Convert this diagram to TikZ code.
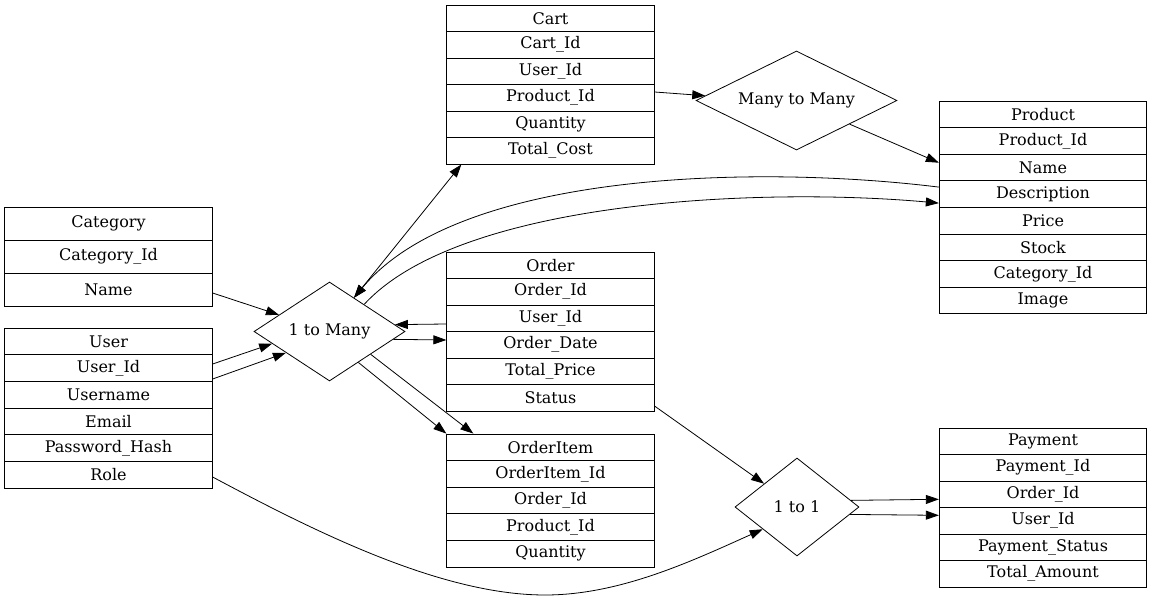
\documentclass[tikz,border=0pt]{standalone}
\usepackage{fontspec}
\setmainfont{DejaVu Serif}
\usepackage{tikz}
\usetikzlibrary{arrows.meta}
\usetikzlibrary{shapes.geometric}

\begin{document}
\begin{tikzpicture}[x=1pt,y=-1pt,line width=0.8pt]
\tikzset{>={Triangle[width=9pt,length=13pt]}}
\tikzstyle{field} =[rectangle, draw, inner sep=0pt, minimum width=207.5pt, minimum height=26.6pt, font=\fontsize{16}{19}\selectfont]
\tikzstyle{relation} =[diamond, draw, aspect=2, inner sep=0pt, font=\fontsize{16}{19}\selectfont]
\useasboundingbox (0,0) rectangle (1152,599);

% Category
\node[field,minimum height=33pt](cat0) at (108.5,223.5){Category};
\node[field,minimum height=33pt](cat1) at (108.5,256.5){Category\_Id};
\node[field,minimum height=33pt](cat2) at (108.5,289.5){Name};

% User
\node[field](user0) at (108.5,341.3){User};
\node[field](user1) at (108.5,368){User\_Id};
\node[field](user2) at (108.5,394.6){Username};
\node[field](user3) at (108.5,421.3){Email};
\node[field](user4) at (108.5,448){Password\_Hash};
\node[field](user5) at (108.5,474.6){Role};

% Cart
\node[field](cart0) at (550.5,18.3){Cart};
\node[field](cart1) at (550.5,44.8){Cart\_Id};
\node[field](cart2) at (550.5,71.3){User\_Id};
\node[field](cart3) at (550.5,97.8){Product\_Id};
\node[field](cart4) at (550.5,124.3){Quantity};
\node[field](cart5) at (550.5,150.8){Total\_Cost};

% Order
\node[field](order0) at (550.5,265.3){Order};
\node[field](order1) at (550.5,291.8){Order\_Id};
\node[field](order2) at (550.5,318.3){User\_Id};
\node[field](order3) at (550.5,344.8){Order\_Date};
\node[field](order4) at (550.5,371.3){Total\_Price};
\node[field](order5) at (550.5,397.8){Status};

% OrderItem
\node[field](oitem0) at (550.5,447.3){OrderItem};
\node[field](oitem1) at (550.5,473.9){OrderItem\_Id};
\node[field](oitem2) at (550.5,500.5){Order\_Id};
\node[field](oitem3) at (550.5,527.1){Product\_Id};
\node[field](oitem4) at (550.5,553.7){Quantity};

% Product
\node[field](prod0) at (1043,114.3){Product};
\node[field](prod1) at (1043,140.9){Product\_Id};
\node[field](prod2) at (1043,167.5){Name};
\node[field](prod3) at (1043,194.1){Description};
\node[field](prod4) at (1043,220.7){Price};
\node[field](prod5) at (1043,247.3){Stock};
\node[field](prod6) at (1043,273.9){Category\_Id};
\node[field](prod7) at (1043,300.5){Image};

% Payment
\node[field](pay0) at (1043,441.3){Payment};
\node[field](pay1) at (1043,467.8){Payment\_Id};
\node[field](pay2) at (1043,494.3){Order\_Id};
\node[field](pay3) at (1043,520.8){User\_Id};
\node[field](pay4) at (1043,547.3){Payment\_Status};
\node[field](pay5) at (1043,573.8){Total\_Amount};

% relations
\node[relation,minimum width=151pt,minimum height=99pt](onemany) at (329.5,331.5){1 to Many};
\node[relation,minimum width=201pt,minimum height=99pt](manymany) at (796.5,100.5){Many to Many};
\node[relation,minimum width=124pt,minimum height=98pt](onetoone) at (797,507){1 to 1};
\coordinate (rolebend) at (545,595);

\draw [->] ([yshift=-3.5pt]cat2.east) -- (onemany);
\draw [->] ([yshift=4pt]user1.east) -- (onemany.192);
\draw [->] ([yshift=-11pt]user1.east) -- (onemany.206);
\draw [<->] ([xshift=15pt]cart5.south west) -- (onemany.54);
\draw [->] ([yshift=7pt]prod3.west) .. controls (760,165) and (460,170) .. (onemany.54);
\draw [->] (onemany.38) .. controls (460,200) and (760,187) .. ([yshift=-9pt]prod3.west);
\draw [->] ([yshift=-5.7pt]order2.west) -- (onemany.6);
\draw [->] (onemany.-7) -- ([yshift=4.8pt]order3.west);
\draw [->] (onemany.-47) -- (oitem0.north west);
\draw [->] (onemany.-29) -- ([xshift=27pt]oitem0.north west);
\draw [->] ([yshift=5.8pt]cart3.east) -- (manymany.177);
\draw [->] (manymany.-24) -- ([yshift=4.8pt]prod2.west);
\draw [->] ([yshift=-8.3pt]order5.east) -- (onetoone);
\draw [->] (onetoone.7) -- ([yshift=-5pt]pay2.west);
\draw [->] (onetoone.-8) -- ([yshift=5.5pt]pay3.west);
\draw [->] ([yshift=-2.4pt]user5.east) .. controls (312,530) and (440,595) .. (rolebend)
  .. controls (620,595) and (692,561) .. (onetoone.213);
\end{tikzpicture}
\end{document}
